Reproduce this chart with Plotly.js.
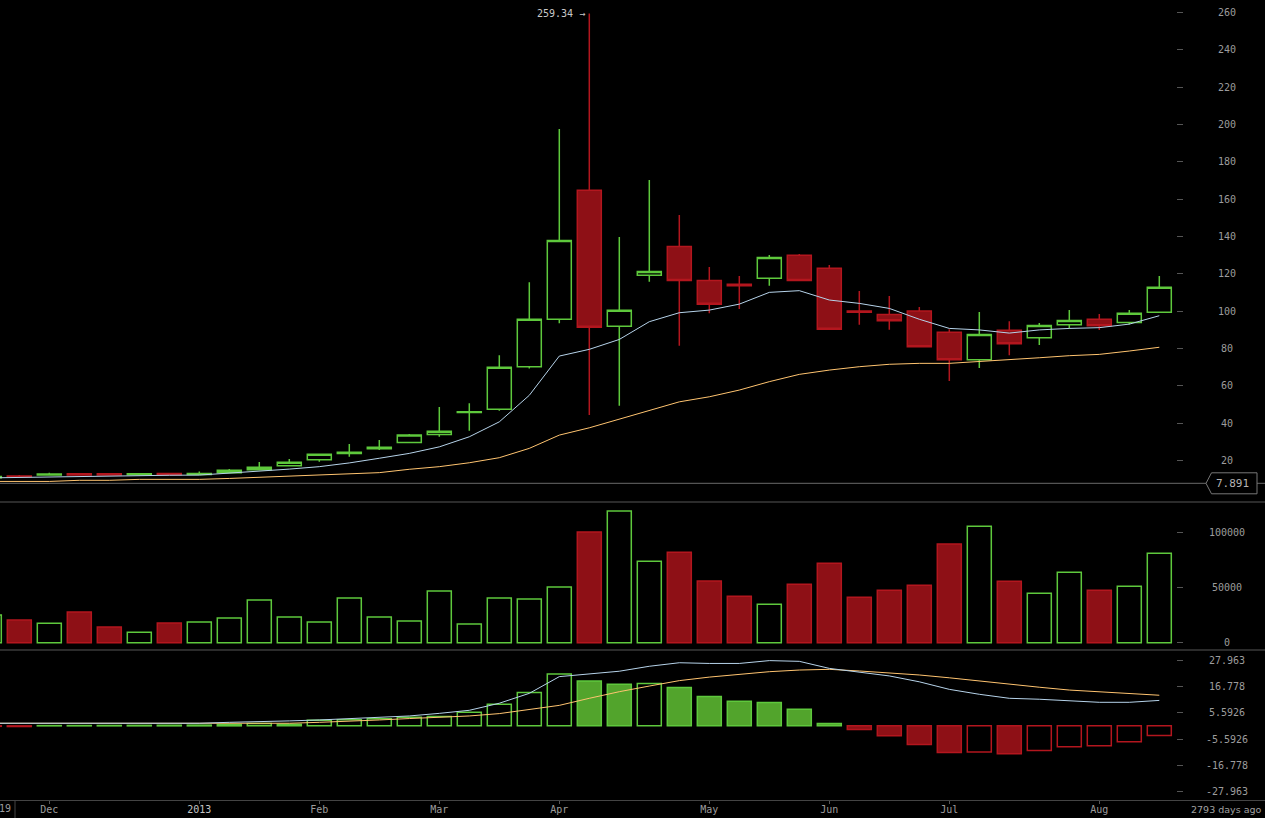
<!DOCTYPE html>
<html><head><meta charset="utf-8">
<script src="https://cdn.plot.ly/plotly-3.0.1.min.js"></script>
<style>html,body{margin:0;padding:0;background:#000;overflow:hidden}#chart{width:1265px;height:818px}</style>
</head><body><div id="chart"></div>
<script>
// ---- data (weekly, Mt.Gox BTC/USD) ----
const weeks = ['2012-11-19','2012-11-26','2012-12-03','2012-12-10','2012-12-17','2012-12-24','2012-12-31',
  '2013-01-07','2013-01-14','2013-01-21','2013-01-28','2013-02-04','2013-02-11','2013-02-18','2013-02-25',
  '2013-03-04','2013-03-11','2013-03-18','2013-03-25','2013-04-01','2013-04-08','2013-04-15','2013-04-22',
  '2013-04-29','2013-05-06','2013-05-13','2013-05-20','2013-05-27','2013-06-03','2013-06-10','2013-06-17',
  '2013-06-24','2013-07-01','2013-07-08','2013-07-15','2013-07-22','2013-07-29','2013-08-05','2013-08-12','2013-08-19'];
const open  = [10.9,11.8,12.4,13.0,13.0,12.5,13.1,12.6,13.6,15.2,17.3,20.5,23.8,26.4,29.8,34.0,45.8,47.5,70.3,95.7,
  164.7,91.9,119.3,134.7,116.5,114.5,117.6,129.9,123.0,100.1,98.3,100.1,88.7,74.0,89.8,85.8,92.8,95.7,94.0,99.4];
const high  = [11.8,12.3,13.6,13.3,13.3,13.2,13.3,14.2,15.55,19.3,20.9,23.5,28.9,31.1,34.3,48.7,50.8,76.4,115.5,197.5,
  259.34,139.7,170.2,151.5,123.7,118.8,130.1,130.6,124.7,110.8,108.1,102.2,90.3,99.6,94.7,93.7,100.6,98.5,100.6,118.8];
const low   = [10.7,11.3,12.1,12.3,12.3,12.4,12.4,12.5,13.5,15.1,17.2,19.45,22.1,25.7,29.6,32.8,36.0,46.7,69.4,93.5,
  44.4,49.4,115.8,81.5,98.9,101.2,113.6,116.3,90.0,92.8,90.1,80.8,62.6,69.6,76.5,81.9,90.8,89.9,92.9,99.0];
const close = [11.5,11.35,12.9,12.4,12.4,13.0,12.5,13.2,14.85,16.45,19.1,23.4,24.5,27.2,33.7,35.7,46.2,70.0,95.7,137.9,
  91.4,100.5,121.3,116.5,103.7,113.7,128.8,116.5,90.3,99.4,94.9,81.0,74.0,87.6,82.6,92.4,95.1,92.2,98.9,112.8];
const volume = [25200,20600,17600,27900,14300,9450,17900,18800,22500,38800,23400,18800,40600,23400,19700,47000,17000,
  40600,39700,50600,100600,119700,74000,82200,56100,42200,34900,53100,72200,41300,47600,52200,89700,105800,55800,
  44900,64000,47600,51300,81300];
const maFast = [10.8,11.1,11.1,11.6,11.6,12.2,12.2,12.3,13.3,14.3,15.5,16.8,18.8,21.3,23.9,27.4,32.8,40.8,55.0,76.0,
  79.6,84.9,94.4,99.2,100.6,103.8,110.1,111.0,106.0,104.2,101.5,95.7,90.8,90.0,88.3,90.0,90.8,91.2,93.1,97.6];
const maSlow = [8.9,8.9,8.9,9.5,9.5,10.0,10.0,10.0,10.5,11.1,11.6,12.2,12.7,13.6,15.4,16.8,18.9,21.6,26.6,33.7,
  37.6,42.1,46.7,51.5,54.2,57.8,62.3,66.2,68.5,70.3,71.6,72.1,72.1,73.0,73.9,75.1,76.2,76.9,78.7,80.7];
const macdLine = [1.1,1.1,1.1,1.1,1.1,1.1,1.1,1.1,1.5,1.7,2.1,2.5,3.0,3.6,4.2,5.3,6.6,9.6,13.8,20.9,
  22.0,23.2,25.3,26.8,26.5,26.5,27.7,27.4,24.4,22.7,21.2,18.7,15.5,13.4,11.7,11.3,10.7,10.0,10.0,10.8];
const macdSignal = [1.1,1.1,1.1,1.1,1.1,1.1,1.1,1.1,1.1,1.1,1.1,1.5,1.9,2.5,3.1,3.6,4.2,5.2,6.8,8.7,
  11.7,14.5,16.9,19.2,20.7,22.0,23.0,23.7,24.0,23.3,22.6,21.6,20.4,19.0,17.6,16.4,15.2,14.4,13.7,13.0];
const macdHist = [-0.2,-0.3,0.1,0.12,0.15,0.2,0.25,0.3,0.6,1.0,0.7,2.4,2.6,3.0,3.7,4.0,5.8,9.2,14.2,22.0,
  19.0,17.7,18.0,16.3,12.5,10.4,9.9,7.0,1.0,-1.5,-4.2,-7.9,-11.3,-11.1,-11.9,-10.5,-8.9,-8.5,-6.8,-4.1];

const priceTicks = [20,40,60,80,100,120,140,160,180,200,220,240,260];
const volumeTicks = [0,50000,100000];
const macdTicks = [-27.963,-16.778,-5.5926,5.5926,16.778,27.963];
const macdTickText = ['-27.963','-16.778','-5.5926','5.5926','16.778','27.963'];
const monthTickWeeks = ['2012-12-03','2013-01-07','2013-02-04','2013-03-04','2013-04-01','2013-05-06','2013-06-03','2013-07-01','2013-08-05'];
const monthTickText = ['Dec','<span style="color:#c4c4c4">2013</span>','Feb','Mar','Apr','May','Jun','Jul','Aug'];
const peakWeek = '2013-04-08', peakValue = 259.34, peakLabel = '259.34 →';
const lastPrice = 7.891;
const startLabel = '19';
const agoLabel = '2793 days ago';

// ---- styles ----
const GREEN = '#5ec83c', GREEN_FILL = '#52a42c', RED = '#b3161e', RED_FILL = '#8e1016';
const BLUE = '#b6d3ea', ORANGE = '#ffc470';
const MONO = 'DejaVu Sans Mono, monospace';
const W = 1265, H = 818, PLOT_H = 800;
const LABEL_X = 1227 / W;
const PRICE_RANGE = [-2.11, 266.58];
const PX_PER_PRICE = (PLOT_H - 298) / (PRICE_RANGE[1] - PRICE_RANGE[0]);

const up = close.map((c, i) => c >= open[i]);
const histFilled = macdHist.map((v, i) => i > 0 && v < macdHist[i - 1]);

const traces = [
  { type: 'candlestick', x: weeks, open, high, low, close, xaxis: 'x', yaxis: 'y',
    increasing: { line: { color: GREEN, width: 1.5 }, fillcolor: '#000' },
    decreasing: { line: { color: RED, width: 1.5 }, fillcolor: RED_FILL },
    whiskerwidth: 0, hoverinfo: 'none' },
  { type: 'scatter', mode: 'lines', x: weeks, y: maSlow, yaxis: 'y', line: { color: ORANGE, width: 1 }, hoverinfo: 'none' },
  { type: 'scatter', mode: 'lines', x: weeks, y: maFast, yaxis: 'y', line: { color: BLUE, width: 1 }, hoverinfo: 'none' },
  { type: 'bar', x: weeks, y: volume, yaxis: 'y2', hoverinfo: 'none',
    marker: { color: up.map(u => u ? '#000' : RED_FILL), line: { color: up.map(u => u ? GREEN : RED), width: 1.5 } } },
  { type: 'bar', x: weeks, y: macdHist, yaxis: 'y3', hoverinfo: 'none',
    marker: { color: macdHist.map((v, i) => histFilled[i] ? (v >= 0 ? GREEN_FILL : RED_FILL) : '#000'),
              line: { color: macdHist.map(v => v >= 0 ? GREEN : RED), width: 1.5 } } },
  { type: 'scatter', mode: 'lines', x: weeks, y: macdSignal, yaxis: 'y3', line: { color: ORANGE, width: 1 }, hoverinfo: 'none' },
  { type: 'scatter', mode: 'lines', x: weeks, y: macdLine, yaxis: 'y3', line: { color: BLUE, width: 1 }, hoverinfo: 'none' }
];

const yCommon = { anchor: 'free', position: 1183 / W, side: 'right', ticks: 'inside', ticklen: 6, tickwidth: 1,
  tickcolor: '#555', showticklabels: false, showgrid: false, zeroline: false, showline: false, tickmode: 'array', fixedrange: true };

const tickFont = { family: MONO, size: 10, color: '#9c9c9c' };
const tickAnn = (vals, texts, yref) => vals.map((v, i) => ({ xref: 'paper', x: LABEL_X, yref, y: v, text: texts[i],
  showarrow: false, xanchor: 'center', yanchor: 'middle', font: tickFont }));

const annotations = [
  ...tickAnn(priceTicks, priceTicks.map(String), 'y'),
  ...tickAnn(volumeTicks, volumeTicks.map(String), 'y2'),
  ...tickAnn(macdTicks, macdTickText, 'y3'),
  { xref: 'x', x: peakWeek, yref: 'y', y: peakValue, text: peakLabel, showarrow: false, xanchor: 'right', yanchor: 'middle',
    xshift: -2, font: { family: MONO, size: 10, color: '#c8c8c8' } },
  { xref: 'paper', x: 1232 / W, yref: 'y', y: lastPrice, text: String(lastPrice), showarrow: false, xanchor: 'center',
    yanchor: 'middle', font: { family: MONO, size: 11, color: '#b4b4b4' } },
  { xref: 'paper', x: 13 / W, yref: 'paper', y: -8 / PLOT_H, text: startLabel, showarrow: false, xanchor: 'right',
    yanchor: 'middle', font: { family: MONO, size: 10, color: '#9c9c9c' } },
  { xref: 'paper', x: 1226 / W, yref: 'paper', y: -9 / PLOT_H, text: agoLabel, showarrow: false, xanchor: 'center',
    yanchor: 'middle', font: { family: 'DejaVu Sans, sans-serif', size: 9.5, color: '#a0a0a0' } }
];

// label box (pointed on the left) around the last-price marker
const dy = 10.5 / PX_PER_PRICE;
const bx = [1206 / W, 1211.5 / W, 1257 / W];
const boxPath = `M ${bx[0]},${lastPrice} L ${bx[1]},${lastPrice + dy} L ${bx[2]},${lastPrice + dy} L ${bx[2]},${lastPrice - dy} L ${bx[1]},${lastPrice - dy} Z`;

const shapes = [
  { type: 'line', xref: 'paper', x0: 0, x1: 1, yref: 'y', y0: lastPrice, y1: lastPrice, line: { color: '#6a6a6a', width: 1 }, layer: 'below' },
  { type: 'path', xref: 'paper', yref: 'y', path: boxPath, fillcolor: '#000', line: { color: '#777', width: 1 } },
  { type: 'line', xref: 'paper', x0: 0, x1: 1, yref: 'paper', y0: 298 / PLOT_H, y1: 298 / PLOT_H, line: { color: '#3a3a3a', width: 1.5 } },
  { type: 'line', xref: 'paper', x0: 0, x1: 1, yref: 'paper', y0: 150 / PLOT_H, y1: 150 / PLOT_H, line: { color: '#3a3a3a', width: 1.5 } },
  { type: 'line', xref: 'paper', x0: 15 / W, x1: 15 / W, yref: 'paper', y0: 0, y1: -18 / PLOT_H, line: { color: '#444', width: 1 } }
];

const layout = {
  width: W, height: H, margin: { l: 0, r: 0, t: 0, b: 18, pad: 0 },
  paper_bgcolor: '#000', plot_bgcolor: '#000', showlegend: false, hovermode: false, dragmode: false,
  bargap: 0.2, boxgap: 0.2, boxgroupgap: 0,
  xaxis: { type: 'category', range: [0.3567, 42.5233], anchor: 'y3', rangeslider: { visible: false },
    tickmode: 'array', tickvals: monthTickWeeks, ticktext: monthTickText, ticks: 'outside', ticklen: 3,
    ticklabelstandoff: -3,
    tickcolor: '#555', showgrid: false, zeroline: false, showline: true, linecolor: '#444', linewidth: 1,
    tickfont: { family: MONO, size: 10, color: '#9c9c9c' }, fixedrange: true },
  yaxis: Object.assign({}, yCommon, { domain: [298 / PLOT_H, 1], range: PRICE_RANGE, tickvals: priceTicks }),
  yaxis2: Object.assign({}, yCommon, { domain: [150 / PLOT_H, 298 / PLOT_H], range: [-6636, 127909], tickvals: volumeTicks }),
  yaxis3: Object.assign({}, yCommon, { domain: [0, 150 / PLOT_H], range: [-31.49, 32.21], tickvals: macdTicks }),
  annotations, shapes
};

Plotly.newPlot('chart', traces, layout, { displayModeBar: false, staticPlot: true });
</script>
</body></html>
